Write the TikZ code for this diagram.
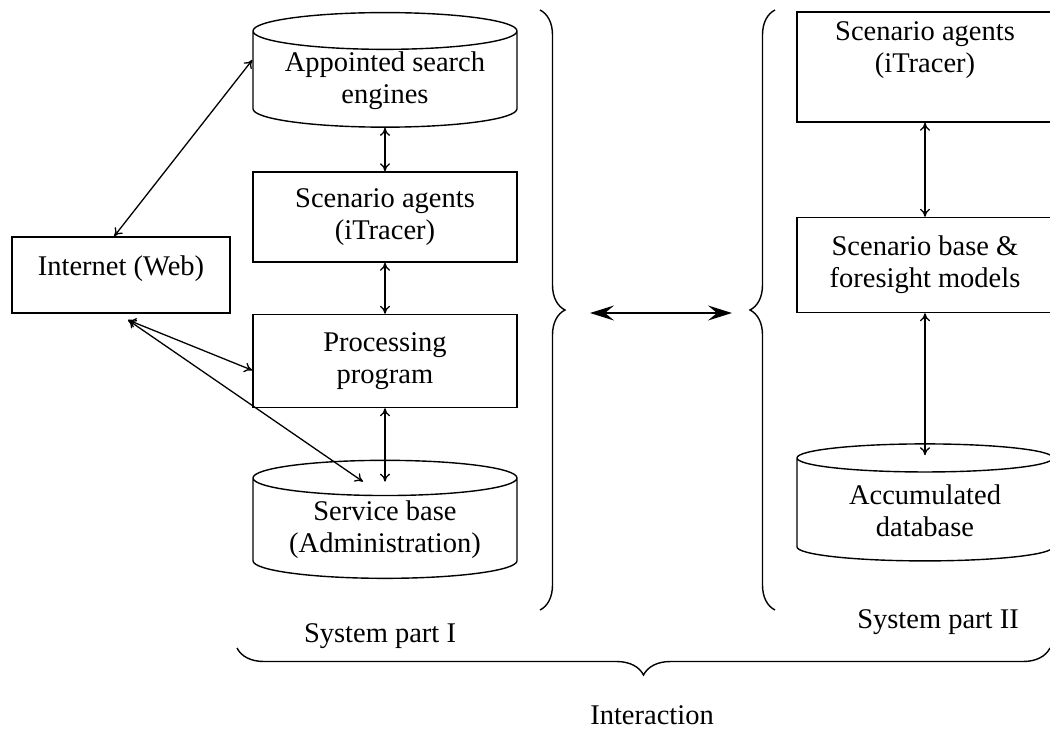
\documentclass[tikz,border=0pt]{standalone}
\usepackage{fontspec}
\setmainfont{Liberation Serif}
\usetikzlibrary{shapes.geometric,arrows.meta,decorations.pathreplacing}

\tikzset{
  box/.style={draw,line width=1.4pt,minimum width=264pt,minimum height=92pt,align=center,inner sep=2pt},
  db/.style={cylinder,shape border rotate=90,draw,line width=1.4pt,minimum width=264pt,minimum height=113pt,aspect=0.18,align=center,inner sep=2pt},
  link/.style={line width=1.3pt,{To[length=8pt,width=10pt]}-{To[length=8pt,width=10pt]}},
  bigbrace/.style={decorate,decoration={brace,amplitude=#1},line width=1.4pt},
}

\begin{document}
\begin{tikzpicture}[x=1pt,y=-1pt,font=\fontsize{28.5}{32}\selectfont]
  \useasboundingbox (0,0) rectangle (1050,729);

  % system part I
  \node[db] (engines) at (385,81) {Appointed search\\engines};
  \node[box,minimum height=90pt] (agents) at (385,217) {Scenario agents\\(iTracer)};
  \node[box,minimum height=93pt] (proc) at (385,361) {Processing\\program};
  \node[db,minimum height=118pt] (admin) at (385,530) {Service base\\(Administration)};
  \node[box,minimum width=218pt,minimum height=76pt,text depth=18pt] (web) at (121,275) {Internet (Web)};
  \coordinate (webport) at (128,320);

  \draw[link] (web.100) -- (engines.171);
  \draw[link] (engines.south) -- (agents.north);
  \draw[link] (agents.south) -- (proc.north);
  \draw[link] (proc.south) -- ([yshift=-22pt]admin.north);
  \draw[link] (webport) -- (proc.184);
  \draw[link] (webport) -- ([xshift=-22pt,yshift=-22pt]admin.north);

  % system part II
  \node[box,minimum width=256pt,minimum height=110pt] (agents2) at (925,67) {Scenario agents\\(iTracer)\\[8pt]\mbox{}};
  \node[box,minimum width=256pt,minimum height=95pt] (models) at (925,265) {Scenario base \&\\foresight models};
  \node[db,minimum width=256pt,minimum height=117pt] (accum) at (925,511) {Accumulated\\database};

  \draw[link] (agents2.south) -- (models.north);
  \draw[link] (models.south) -- ([yshift=-12pt]accum.north);

  % braces
  \draw[bigbrace=25pt] (540,10) -- (540,610);
  \draw[bigbrace=25pt] (775,610) -- (775,10);
  \draw[bigbrace=27pt] (1050,648) -- (237,648);

  \coordinate (partone) at (590,313);
  \coordinate (parttwo) at (732,313);
  \draw[line width=1.5pt,{Stealth[length=24pt,width=15pt,inset=9pt]}-{Stealth[length=24pt,width=15pt,inset=9pt]}] (partone) -- (parttwo);

  \node (sysone) at (380,636) {System part I};
  \node (systwo) at (938,622) {System part II};
  \node[inner sep=1pt] (inter) at (652,715) {Interaction};
\end{tikzpicture}
\end{document}
